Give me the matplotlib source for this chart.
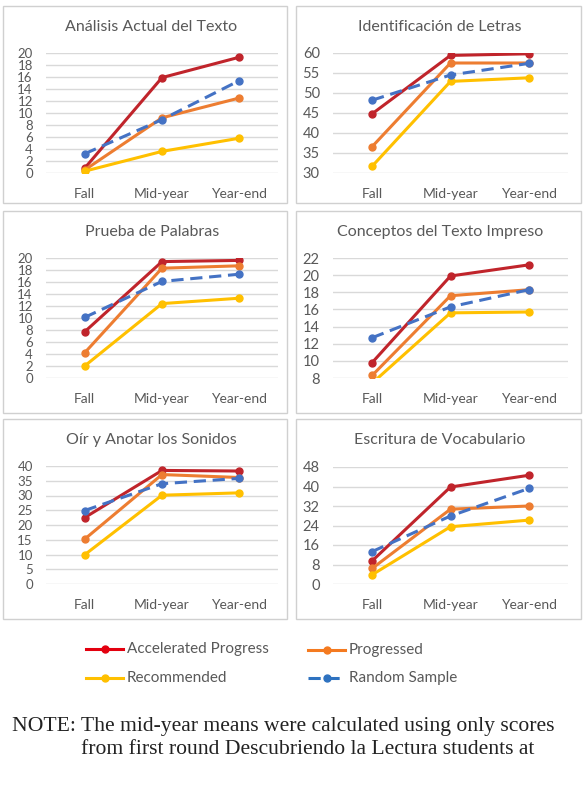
import matplotlib
matplotlib.use("Agg")
import matplotlib.pyplot as plt
from matplotlib.patches import Rectangle
from matplotlib.lines import Line2D

W, H = 587, 786

periods = ["Fall", "Mid-year", "Year-end"]
series_names = ["Accelerated Progress", "Progressed", "Recommended", "Random Sample"]

# group means per subtest: accelerated, progressed, recommended, random sample
analisis_acc = [0.8, 15.9, 19.3]
analisis_pro = [0.5, 9.2, 12.5]
analisis_rec = [0.3, 3.6, 5.8]
analisis_rnd = [3.2, 8.9, 15.4]

letras_acc = [44.8, 59.4, 59.8]
letras_pro = [36.6, 57.5, 57.5]
letras_rec = [31.7, 52.9, 53.8]
letras_rnd = [48.2, 54.5, 57.4]

palabras_acc = [7.7, 19.4, 19.6]
palabras_pro = [4.2, 18.3, 18.7]
palabras_rec = [2.0, 12.4, 13.3]
palabras_rnd = [10.1, 16.1, 17.3]

conceptos_acc = [9.8, 19.9, 21.2]
conceptos_pro = [8.3, 17.6, 18.3]
conceptos_rec = [7.4, 15.6, 15.7]
conceptos_rnd = [12.7, 16.3, 18.3]

sonidos_acc = [22.5, 38.5, 38.3]
sonidos_pro = [15.2, 37.1, 36.1]
sonidos_rec = [9.9, 30.1, 30.9]
sonidos_rnd = [24.9, 34.0, 35.8]

vocab_acc = [9.5, 39.8, 44.6]
vocab_pro = [6.4, 30.7, 32.0]
vocab_rec = [3.8, 23.5, 26.2]
vocab_rnd = [13.3, 27.9, 39.2]

colors = ["#c0242b", "#ed7d31", "#ffc000", "#4472c4"]
legend_colors = ["#e3000f", "#f47a20", "#ffc000", "#2e72c0"]
styles = ["-", "-", "-", (0, (4, 2.2))]

panels = [
    ("Análisis Actual del Texto", [analisis_acc, analisis_pro, analisis_rec, analisis_rnd],
     (0, 20), range(0, 21, 2)),
    ("Identificación de Letras", [letras_acc, letras_pro, letras_rec, letras_rnd],
     (30, 60), range(30, 61, 5)),
    ("Prueba de Palabras", [palabras_acc, palabras_pro, palabras_rec, palabras_rnd],
     (0, 20), range(0, 21, 2)),
    ("Conceptos del Texto Impreso", [conceptos_acc, conceptos_pro, conceptos_rec, conceptos_rnd],
     (8, 22), range(8, 23, 2)),
    ("Oír y Anotar los Sonidos", [sonidos_acc, sonidos_pro, sonidos_rec, sonidos_rnd],
     (0, 40), range(0, 41, 5)),
    ("Escritura de Vocabulario", [vocab_acc, vocab_pro, vocab_rec, vocab_rnd],
     (0, 48), range(0, 49, 8)),
]

# pixel boxes (left, top, right, bottom) for frames and plot areas
frames = [(3, 6, 287, 203), (296, 6, 581, 203),
          (3, 211, 287, 413), (296, 211, 581, 413),
          (3, 419, 287, 619), (296, 419, 581, 619)]
plot_boxes = [(46, 53, 278, 173), (333, 53, 568, 173),
              (46, 258, 278, 378), (333, 258, 568, 378),
              (46, 466, 278, 584), (333, 467, 568, 584)]
title_pos = [(151, 27), (440, 27), (152, 232), (440, 232), (151, 440), (440, 440)]

plt.rcParams["font.family"] = ["Lato", "DejaVu Sans"]
grey_txt = "#595959"

fig = plt.figure(figsize=(W / 100, H / 100), dpi=100)


def fx(x):
    return x / W


def fy(y):
    return 1 - y / H


for (title, data, ylim, ticks), fr, pb, tp in zip(panels, frames, plot_boxes, title_pos):
    fig.patches.append(Rectangle((fx(fr[0]), fy(fr[3])), fx(fr[2] - fr[0]), (fr[3] - fr[1]) / H,
                                 transform=fig.transFigure, fill=False,
                                 edgecolor="#d0d0d0", linewidth=1.0))
    ax = fig.add_axes([fx(pb[0]), fy(pb[3]), fx(pb[2] - pb[0]), (pb[3] - pb[1]) / H])
    for vals, c, ls in zip(data, colors, styles):
        ax.plot(range(len(periods)), vals, color=c, linestyle=ls, linewidth=2.2,
                marker="o", markersize=5, zorder=3)
    ax.set_xlim(-0.5, 2.5)
    ax.set_ylim(*ylim)
    ax.set_yticks(list(ticks))
    ax.set_xticks(range(len(periods)))
    ax.set_xticklabels(periods)
    ax.grid(axis="y", color="#d9d9d9", linewidth=1.0)
    ax.set_axisbelow(True)
    for s in ax.spines.values():
        s.set_visible(False)
    ax.tick_params(length=0, labelcolor=grey_txt, labelsize=10)
    ax.tick_params(axis="x", pad=11)
    dense = len(ticks) > 8
    ax.tick_params(axis="y", pad=9.5, labelsize=9.5 if dense else 10.5)
    fig.text(fx(tp[0]), fy(tp[1]), title, ha="center", va="center",
             fontsize=11.5, color=grey_txt)

# legend below the panels
leg_items = [(series_names[0], 86, 649, 0), (series_names[1], 308, 650, 1),
             (series_names[2], 86, 678, 2), (series_names[3], 308, 678, 3)]
for name, x0, y0, i in leg_items:
    fig.add_artist(Line2D([fx(x0), fx(x0 + 37)], [fy(y0), fy(y0)], transform=fig.transFigure,
                          color=legend_colors[i], linestyle=styles[i], linewidth=2.2))
    fig.add_artist(Line2D([fx(x0 + 18.5)], [fy(y0)], transform=fig.transFigure,
                          color=legend_colors[i], marker="o", markersize=5))
    fig.text(fx(x0 + 41), fy(y0), name, ha="left", va="center", fontsize=11, color=grey_txt)

fig.text(fx(12), fy(726), "NOTE: The mid-year means were calculated using only scores",
         ha="left", va="center", fontsize=15.6, color="#222222", family="Liberation Serif")
fig.text(fx(81), fy(750), "from first round Descubriendo la Lectura students at",
         ha="left", va="center", fontsize=15.6, color="#222222", family="Liberation Serif")

fig.savefig("out.png", dpi=100, facecolor="white")
